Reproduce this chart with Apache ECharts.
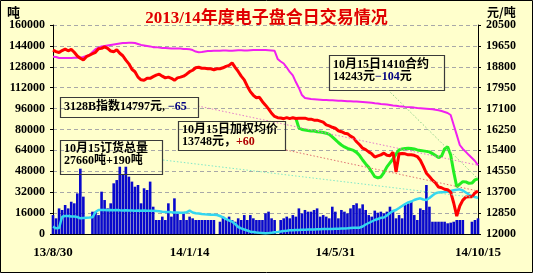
<!DOCTYPE html>
<html><head><meta charset="utf-8">
<script src="https://cdn.jsdelivr.net/npm/echarts@6/dist/echarts.min.js"></script>
<style>html,body{margin:0;padding:0;background:#FFFFCC}#c{width:533px;height:273px}</style>
</head><body><div id="c"></div>
<script>
// x tick labels: [category index, text]
const tickLabels = [[0,'13/8/30'],[45,'14/1/14'],[93,'14/5/31'],[140,'14/10/15']];
const leftTicks = {min:0, max:160000, interval:16000};
const rightTicks = {min:12000, max:20500, interval:850};

// 3128B index price (magenta, right axis)
const indexPrice = [
19210,19200,19160,19160,19160,19160,19160,19170,19170,19170,
19200,19240,19280,19400,19520,19580,19630,19650,19670,19690,
19710,19730,19750,19770,19770,19780,19780,19770,19730,19690,
19670,19650,19630,19600,19600,19580,19560,19560,19550,19540,
19540,19540,19540,19520,19520,19510,19480,19420,19390,19400,
19420,19440,19440,19450,19450,19450,19460,19460,19450,19450,
19460,19470,19470,19460,19460,19470,19480,19480,19480,19480,
19480,19470,19460,19450,19120,19015,18935,18770,18590,18450,
18180,17940,17650,17530,17510,17490,17480,17470,17460,17450,
17450,17440,17440,17430,17420,17420,17410,17400,17400,17390,
17390,17380,17370,17360,17350,17340,17320,17310,17290,17280,
17270,17250,17230,17220,17200,17190,17170,17160,17150,17140,
17120,17110,17100,17090,17080,17070,17050,17030,17000,16960,
16920,16840,16430,16030,15620,15460,15340,15210,15090,14970,14797];

// weighted average price (red, right axis)
const avgPrice = [
19480,19420,19380,19460,19520,19450,19510,19390,19240,19150,
19080,19210,19270,19330,19390,19530,19550,19610,19550,19440,
19410,19490,19350,19250,19070,18920,18700,18600,18380,18270,
18250,18330,18330,18400,18460,18500,18420,18350,18380,18330,
18250,18350,18380,18420,18500,18600,18660,18760,18780,18740,
18740,18720,18720,18680,18720,18720,18760,18820,18860,18960,
18780,18610,18420,18270,18010,17790,17640,17540,17560,17380,
17240,17090,16910,16780,16730,16720,16690,16730,16690,16730,
16700,16710,16710,16710,16670,16670,16630,16630,16590,16550,
16440,16400,16340,16300,16200,16160,16100,16080,15980,15910,
15750,15630,15490,15430,15340,15260,15130,15180,15220,15290,
15200,15180,15330,14520,15260,15270,15260,15220,15220,15200,
15150,15000,14750,14470,14340,14190,14080,13910,13880,13820,
13800,13700,13260,12730,13140,13380,13500,13510,13510,13670,13748];

// 1410 contract price (green, right axis), starts at index 80
const contract1410 = [...Array(80).fill(null),
16710,16310,16250,16230,16210,16190,16190,16160,16150,16130,
16100,16050,15950,15840,15720,15620,15540,15480,15440,15400,
15320,15190,15010,14850,14710,14520,14330,14280,14320,14500,
14730,14890,15050,15250,15420,15460,15480,15490,15480,15460,
15420,15400,15380,15360,15340,15270,15190,15110,15170,15460,
15550,15210,14520,13920,14030,14130,14120,14060,14070,14200,14243];

// total open interest (cyan, left axis)
const openInterest = [
5590,4360,4590,13240,13780,13780,13400,13400,13010,12020,
12250,12480,12630,12790,16840,18370,18370,18370,18140,18370,
18220,18370,18140,17990,18220,17990,17990,17840,17990,17840,
17990,17840,17840,17840,17610,17380,17070,16840,16840,16610,
16460,16460,16310,16310,16610,17840,16460,15850,15690,15310,
15080,14930,14780,14700,14550,13780,12790,11480,10340,9420,
7660,5360,4360,3450,2680,1760,1530,1150,920,770,
610,770,1000,1300,1530,1910,2300,2530,2830,2910,
3060,3140,3220,3290,3370,3440,3520,3600,3670,3750,
3830,3830,3900,4000,4100,4200,4300,4400,4550,4700,
4750,4820,5740,7270,8420,9570,10720,11480,12400,12630,
14160,16080,17610,18370,19900,21440,22970,24120,24880,26030,
26790,27330,26410,26030,27560,29470,31160,31770,32000,32150,
32380,32920,33450,33840,34220,33300,31770,30240,29090,28330,27660];

// trading volume (blue bars, left axis)
const volume = [
14500,12000,19600,18400,22200,19600,24700,23500,31100,50000,
28600,null,null,17100,17100,14500,32400,26000,19600,23500,
38800,41300,51500,45200,51500,43900,40100,36200,37500,23500,
35000,33700,40100,20900,10700,10700,13300,10700,23500,13300,
27300,15800,10700,15800,10700,13300,12000,10700,10700,10700,
10700,10700,10700,10700,null,9400,13300,10700,13300,10700,
9400,12000,10700,14500,10700,14500,12000,10700,10700,10700,
15800,17100,12000,10700,null,10700,12000,13300,12000,14500,
13300,19600,15800,18400,17100,17100,18400,19600,13300,14500,
13300,12000,20900,17100,12000,18400,17100,15800,19600,22200,
23500,19600,22700,18400,14500,13300,17900,16300,17100,15800,
17100,20900,18400,12000,14500,12000,22200,23500,24700,14500,
10700,19600,18400,37500,20900,9400,9400,9400,9400,9400,
8200,8700,9400,10700,10700,10700,null,null,9400,10700,12000];

const categories = indexPrice.map((_, i) => i);
const labelMap = new Map(tickLabels);

const FONT = "'Liberation Serif','Noto Sans CJK SC',serif";
const CJK = "'Noto Sans CJK SC','Liberation Serif',sans-serif";

const chart = echarts.init(document.getElementById('c'), null, {renderer:'canvas'});
const axisLabelStyle = {color:'#000', fontWeight:'bold', fontSize:12, fontFamily:FONT, formatter:(v)=>String(v)};

chart.setOption({
  animation:false,
  backgroundColor:'#FFFFCC',
  title:{text:'2013/14年度电子盘合日交易情况', left:'center', top:5,
    textStyle:{color:'#E00000', fontSize:17, fontWeight:'bold', fontFamily:"'Liberation Serif','Noto Sans CJK SC',serif",
      textShadowColor:'#700000', textShadowOffsetX:1, textShadowOffsetY:1, textShadowBlur:0}},
  grid:{left:53, right:55, top:25, bottom:39},
  xAxis:{type:'category', data:categories, boundaryGap:false,
    axisLine:{lineStyle:{color:'#000', width:1}}, axisTick:{show:false},
    axisLabel:{interval:(i)=>labelMap.has(i), formatter:(v,i)=>labelMap.get(Number(v)) || '',
      color:'#000', fontWeight:'bold', fontSize:13, fontFamily:FONT, margin:12},
    splitLine:{show:false}},
  yAxis:[
    {type:'value', position:'left', min:leftTicks.min, max:leftTicks.max, interval:leftTicks.interval,
     axisLine:{show:true, lineStyle:{color:'#000'}}, axisTick:{show:true, length:3, lineStyle:{color:'#000'}},
     axisLabel:Object.assign({margin:8}, axisLabelStyle),
     splitLine:{show:true, lineStyle:{color:'#A8A8A8', type:[4,3], width:1}}},
    {type:'value', position:'right', min:rightTicks.min, max:rightTicks.max, interval:rightTicks.interval,
     axisLine:{show:true, lineStyle:{color:'#000'}}, axisTick:{show:true, length:3, lineStyle:{color:'#000'}},
     axisLabel:Object.assign({margin:8}, axisLabelStyle),
     splitLine:{show:false}}
  ],
  series:[
    {name:'成交量', type:'bar', data:volume, yAxisIndex:0, barWidth:2.6, itemStyle:{color:'#0808CC'}, z:2},
    {name:'订货总量', type:'line', data:openInterest, yAxisIndex:0, symbol:'none', lineStyle:{color:'#33D6F0', width:2.5}, z:3},
    {name:'指数', type:'line', data:indexPrice, yAxisIndex:1, symbol:'none', lineStyle:{color:'#F020F0', width:2}, z:3},
    {name:'1410合约', type:'line', data:contract1410, yAxisIndex:1, symbol:'none', lineStyle:{color:'#22EE22', width:3}, z:4},
    {name:'加权均价', type:'line', data:avgPrice, yAxisIndex:1, symbol:'none', lineStyle:{color:'#FF0000', width:3}, z:5}
  ]
});

const last = categories.length - 1;
const pEnd = (si, arr) => chart.convertToPixel({seriesIndex:si}, [last, arr[last]]);
const magEnd = pEnd(2, indexPrice), redEnd = pEnd(4, avgPrice), grnEnd = pEnd(3, contract1410), cyEnd = pEnd(1, openInterest);

const boxStyle = {fill:'rgba(0,0,0,0)', stroke:'#3A3A3A', lineWidth:1.2};
const txt = (x, y, text, rich) => ({type:'text', x, y, z:20, style:{text, font:"bold 12px " + FONT, fill:'#000', rich}});
const leader = (x1, y1, p, color) => ({type:'line', z:6, shape:{x1, y1, x2:p[0], y2:p[1]},
  style:{stroke:color, lineWidth:1, lineDash:[1.5,2]}});
const richBase = {a:{font:"bold 12px " + FONT, fill:'#000'}, n:{font:"bold 12px " + FONT, fill:'#000080'}, r:{font:"bold 12px " + FONT, fill:'#B00000'}};

chart.setOption({graphic:[
  {type:'rect', z:30, shape:{x:0.5, y:0.5, width:532, height:272}, style:{fill:'rgba(0,0,0,0)', stroke:'#000', lineWidth:1}},
  {type:'text', x:7, y:6, z:20, style:{text:'吨', font:"bold 13px " + CJK, fill:'#000'}},
  {type:'text', x:487, y:6, z:20, style:{text:'元/吨', font:"bold 12px " + CJK, fill:'#000'}},
  leader(198, 106, magEnd, '#E47ACB'),
  leader(286, 150, redEnd, '#E07070'),
  leader(163, 160, cyEnd, '#80E8C8'),
  leader(388, 90, grnEnd, '#88D088'),
  {type:'rect', z:19, shape:{x:60.5, y:97.5, width:138, height:20}, style:boxStyle},
  txt(64, 101, '{a|3128B指数14797元, }{n|−65}', richBase),
  {type:'rect', z:19, shape:{x:178.5, y:121.5, width:107, height:29}, style:boxStyle},
  txt(182, 124, '{a|10月15日加权均价}\n{a|13748元，}{r|+60}', richBase),
  {type:'rect', z:19, shape:{x:60.5, y:140.5, width:102, height:34}, style:boxStyle},
  txt(64, 143, '{a|10月15订货总量}\n{a|27660吨+190吨}', richBase),
  {type:'rect', z:19, shape:{x:329.5, y:55.5, width:115, height:35}, style:boxStyle},
  txt(333, 59, '{a|10月15日1410合约}\n{a|14243元}{n|−104}{a|元}', richBase)
]});
</script></body></html>
